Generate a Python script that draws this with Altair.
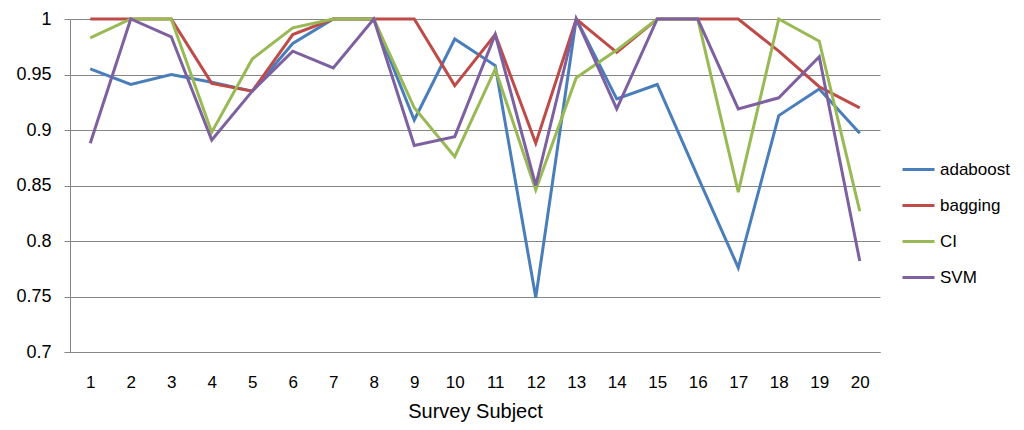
import altair as alt
import pandas as pd

subjects = list(range(1, 21))
adaboost = [0.955, 0.941, 0.950, 0.943, 0.935, 0.978, 1.0, 1.0, 0.909, 0.982,
            0.958, 0.749, 1.0, 0.928, 0.941, 0.858, 0.776, 0.913, 0.937, 0.897]
bagging = [1.0, 1.0, 1.0, 0.942, 0.935, 0.986, 1.0, 1.0, 1.0, 0.940,
           0.986, 0.888, 1.0, 0.970, 1.0, 1.0, 1.0, 0.971, 0.939, 0.920]
ci = [0.983, 1.0, 1.0, 0.898, 0.964, 0.992, 1.0, 1.0, 0.920, 0.876,
      0.955, 0.846, 0.947, 0.972, 1.0, 1.0, 0.844, 1.0, 0.980, 0.827]
svm = [0.888, 1.0, 0.984, 0.891, 0.935, 0.971, 0.956, 1.0, 0.886, 0.894,
       0.986, 0.850, 1.0, 0.919, 1.0, 1.0, 0.919, 0.929, 0.966, 0.782]

series = {"adaboost": adaboost, "bagging": bagging, "CI": ci, "SVM": svm}
rows = []
for name, vals in series.items():
    for s, v in zip(subjects, vals):
        rows.append({"subject": s, "value": v, "method": name})
df = pd.DataFrame(rows)

FONT = "Liberation Sans"

chart = alt.Chart(df).mark_line(strokeWidth=3).encode(
    x=alt.X("subject:O", title="Survey Subject",
            scale=alt.Scale(paddingInner=0, paddingOuter=0.5),
            axis=alt.Axis(labelAngle=0, ticks=False, labelPadding=22,
                          labelFontSize=17, titleFontSize=20, titleFontWeight="normal",
                          titlePadding=11, domainColor="#868686", labelColor="#000",
                          titleColor="#000", labelFont=FONT, titleFont=FONT)),
    y=alt.Y("value:Q", title=None,
            scale=alt.Scale(domain=[0.7, 1.0], nice=False, zero=False),
            axis=alt.Axis(values=[0.7, 0.75, 0.8, 0.85, 0.9, 0.95, 1.0],
                          format="~g", tickSize=6, tickColor="#868686",
                          labelPadding=13, labelFontSize=18, labelColor="#000",
                          labelFont=FONT, domainColor="#868686",
                          gridColor="#868686", gridWidth=1)),
    color=alt.Color("method:N", title=None,
                    scale=alt.Scale(domain=list(series.keys()),
                                    range=["#4A7EBB", "#BE4B48", "#98B954", "#7D60A0"]),
                    legend=alt.Legend(orient="none", legendX=831, legendY=133,
                                      symbolType="stroke", symbolSize=1024,
                                      symbolStrokeWidth=3, rowPadding=10,
                                      labelFontSize=17, labelFont=FONT, labelLimit=200,
                                      labelColor="#000", labelOffset=4, padding=0)),
).properties(
    width=810, height=333,
    autosize=alt.AutoSizeParams(type="none"),
    padding={"left": 62, "top": 11, "right": 136, "bottom": 70},
).configure_view(stroke=None)

chart.save("out.html", embed_options={"renderer": "svg", "actions": False})
